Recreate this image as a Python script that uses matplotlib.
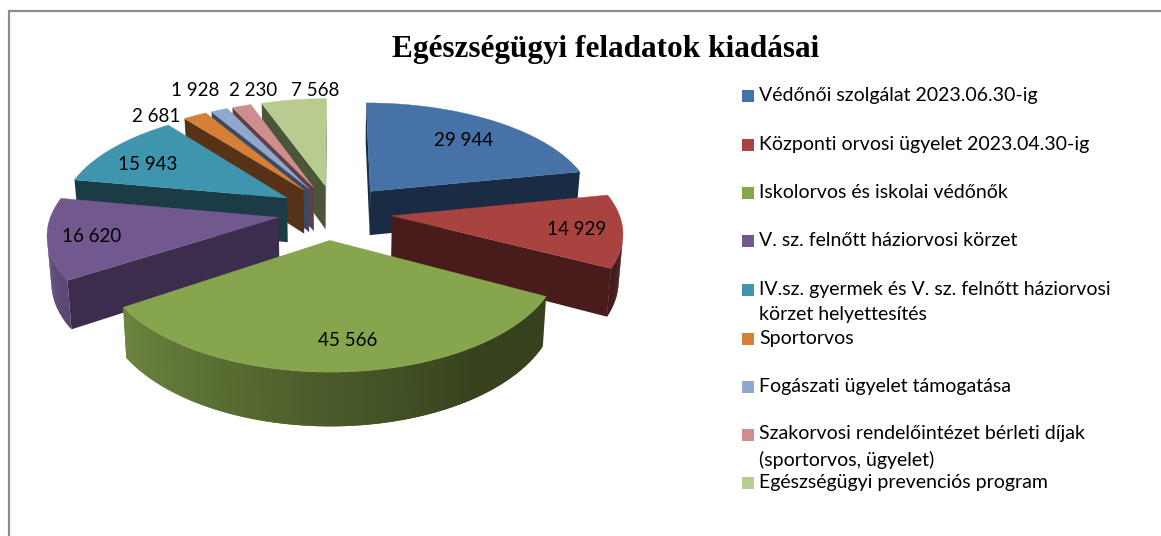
import numpy as np
import matplotlib
matplotlib.use("Agg")
import matplotlib.pyplot as plt
from matplotlib.colors import to_rgb

categories = [
    "Védőnői szolgálat 2023.06.30-ig",
    "Központi orvosi ügyelet 2023.04.30-ig",
    "Iskolorvos és iskolai védőnők",
    "V. sz. felnőtt háziorvosi körzet",
    "IV.sz. gyermek és V. sz. felnőtt háziorvosi\nkörzet helyettesítés",
    "Sportorvos",
    "Fogászati ügyelet támogatása",
    "Szakorvosi rendelőintézet bérleti díjak\n(sportorvos, ügyelet)",
    "Egészségügyi prevenciós program",
]
values = [29944, 14929, 45566, 16620, 15943, 2681, 1928, 2230, 7568]
title = "Egészségügyi feladatok kiadásai"

top_colors = ["#4672A8", "#A84340", "#87A54C", "#71588F", "#4095AE",
              "#D57F38", "#8EA8D0", "#CE8E8D", "#B9CC90"]
wall_colors = ["#1A2C44", "#471C1A", "#35421D", "#3B2D4B", "#1B3B46",
               "#563316", "#3B4962", "#5F3F3F", "#4B553A"]
draw_order = [8, 7, 6, 5, 4, 0, 3, 1, 2]
legend_y = [96, 145, 193, 241, 290, 339, 387, 435, 483]
label_xy = [(464, 140.5), (577, 229.5), (348, 341), (92, 236), (148, 164.5),
            (156, 116), (195, 91), (253, 90), (315, 91)]
slice_xscale = [1.03, 1.03, 1.0, 1.03, 1.03, 1.03, 1.02, 1.01, 1.01]
slice_dx = [0, 0, -8, 0, 0, 0, 0, 0, 0]

CX, CY = 335.0, 212.0
A, B, P = 220.0, 105.5, 0.135
EXPLODE = 0.26
DEPTH = 45.0
CONV = 0.985


def project(X, Y, z=0.0, dx=0.0):
    w = 1 + P * Y
    x = CX + A * X / w
    y = CY - B * Y / w
    if z:
        x = CX + (x - CX) * CONV
        y = y + z / w
    return x + dx, y


def shade(color, f):
    return tuple(min(1, c * f) for c in to_rgb(color))


fig = plt.figure(figsize=(11.61, 5.36), dpi=100, facecolor="white")
ax = fig.add_axes([0, 0, 1, 1])
ax.set_xlim(0, 1161)
ax.set_ylim(536, 0)
ax.axis("off")

ax.plot([8.5, 8.5, 1161], [536, 10.5, 10.5], color="#8C8C8C", lw=1.6,
        solid_joinstyle="miter", zorder=1)

angles = np.cumsum([0] + values) / sum(values) * 360.0
z = 2
for i in draw_order:
    t0, t1 = angles[i], angles[i + 1]
    mid = np.radians((t0 + t1) / 2)
    ox, oy = EXPLODE * np.sin(mid), EXPLODE * np.cos(mid)
    th = np.radians(np.linspace(t0, t1, max(6, int((t1 - t0) * 1.5))))
    PX = np.r_[ox, ox + slice_xscale[i] * np.sin(th), ox]
    PY = np.r_[oy, oy + np.cos(th), oy]
    top = [project(a, b, 0, slice_dx[i]) for a, b in zip(PX, PY)]
    bot = [project(a, b, DEPTH, slice_dx[i]) for a, b in zip(PX, PY)]
    n_seg = len(top) - 1
    for k in range(n_seg):
        quad = [top[k], top[k + 1], bot[k + 1], bot[k]]
        area = sum(quad[j][0] * quad[(j + 1) % 4][1] - quad[(j + 1) % 4][0] * quad[j][1]
                   for j in range(4))
        if area >= 0:
            continue
        radial = k == 0 or k == n_seg - 1
        if radial:
            col = wall_colors[i]
        else:
            deg = np.degrees((th[k - 1] + th[k]) / 2)
            f = np.interp(deg, [90, 145, 180, 235, 275], [0.40, 0.40, 0.55, 0.80, 0.95])
            col = shade(top_colors[i], f)
            # overlap the following segment so no seams show in the gradient
            if k + 2 < n_seg:
                quad = [top[k], top[k + 2], bot[k + 2], bot[k]]
        ax.fill(*zip(*quad), color=col, lw=0, zorder=z)
    ax.fill(*zip(*top), color=top_colors[i], lw=0.3, zorder=z + 0.5)
    z += 1

for i, v in enumerate(values):
    txt = f"{v:,}".replace(",", " ")
    ax.text(*label_xy[i], txt, ha="center", va="center", family="Lato",
            fontsize=13.5, color="black", zorder=50)

for i, lab in enumerate(categories):
    y = legend_y[i]
    ax.fill([742, 754, 754, 742], [y - 6, y - 6, y + 6, y + 6], color=top_colors[i], lw=0, zorder=50)
    yt = y - 0.5 if "\n" not in lab else y + 12
    ax.text(759, yt, lab, ha="left", va="center", family="Lato", fontsize=14.0,
            color="black", linespacing=1.55, zorder=50)

ax.text(606, 50, title, ha="center", va="center", family="Liberation Serif",
        weight="bold", fontsize=22.5, color="black", zorder=50)

fig.savefig("out.png", dpi=100, facecolor="white")
